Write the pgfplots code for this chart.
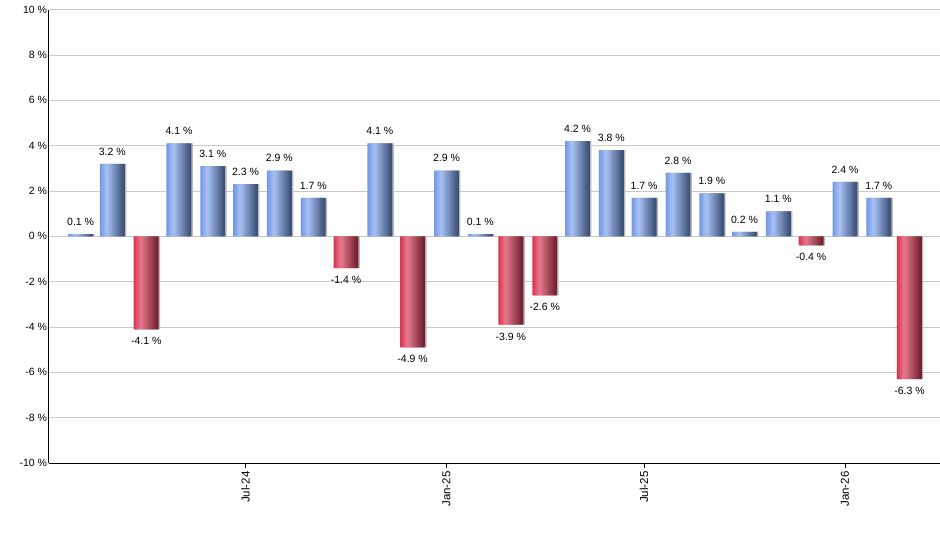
\documentclass[border=0pt]{standalone}
\usepackage{fontspec}
\setmainfont{Liberation Sans}
\usepackage{pgfplots}
\usepackage{pgfplotstable}
\pgfplotsset{compat=1.18}

\definecolor{bL}{HTML}{6E94E6}
\definecolor{bM}{HTML}{A8C2F4}
\definecolor{bR}{HTML}{3A4D75}
\definecolor{rL}{HTML}{DD2C4E}
\definecolor{rM}{HTML}{E77A8E}
\definecolor{rR}{HTML}{6F1E2E}
\definecolor{gridgray}{HTML}{C8C8C8}

% x = days since 1 Feb 2024 (first of each month)
\pgfplotstableread{
x   y
0   0.1
29  3.2
90  4.1
121 3.1
151 2.3
182 2.9
213 1.7
274 4.1
335 2.9
366 0.1
455 4.2
486 3.8
516 1.7
547 2.8
578 1.9
608 0.2
639 1.1
700 2.4
731 1.7
}\posdata

\pgfplotstableread{
x   y
60  -4.1
243 -1.4
304 -4.9
394 -3.9
425 -2.6
669 -0.4
759 -6.3
}\negdata

% bars are drawn as vertical strips to get the horizontal gradient
\newcommand\nstrip{20}
\newcommand\barw{22.2}

\begin{document}
\begin{tikzpicture}
\useasboundingbox (-49pt,-87pt) rectangle (891pt,463pt);
\begin{axis}[
  at={(0,0)}, anchor=south west,
  scale only axis,
  width=891pt, height=453.3pt,
  ybar, bar width=22.6, bar shift=0pt,
  xmin=-29, xmax=787,
  ymin=-10, ymax=10,
  axis x line*=bottom, axis y line*=left,
  axis line style={-, black, line width=1pt},
  ytick={-10,-8,...,10},
  yticklabels={-10 \%,-8 \%,-6 \%,-4 \%,-2 \%,0 \%,2 \%,4 \%,6 \%,8 \%,10 \%},
  ytick style={draw=none},
  y tick label style={font=\fontsize{10.5}{12}\selectfont, xshift=6.5pt},
  ymajorgrids, grid style={gridgray, line width=0.8pt},
  xtick={151,335,516,700},
  xticklabels={Jul-24,Jan-25,Jul-25,Jan-26},
  tick align=outside, major tick length=5pt,
  xtick style={black, line width=1pt},
  x tick label style={rotate=90, anchor=east, font=\fontsize{11.5}{13}\selectfont},
  tick label style={black},
  point meta=explicit symbolic,
]
% shadows
\addplot[draw=none, fill=gray!55, bar shift=1.6pt] table[x=x,y=y] {\posdata};
\addplot[draw=none, fill=gray!55, bar shift=1.6pt] table[x=x,y=y] {\negdata};
% gradient strips
\pgfplotsinvokeforeach{0,...,19}{
  \pgfmathsetmacro\t{(#1+0.5)/\nstrip}
  \pgfmathsetmacro\sh{(#1+0.5)*\barw/\nstrip-\barw/2}
  \pgfmathsetmacro\sw{\barw/\nstrip+0.6}
  \ifdim\t pt<0.3pt
    \pgfmathtruncatemacro\pc{\t/0.3*100}
    \edef\cb{bM!\pc!bL}\edef\cr{rM!\pc!rL}
  \else
    \pgfmathtruncatemacro\pc{(\t-0.3)/0.7*100}
    \edef\cb{bR!\pc!bM}\edef\cr{rR!\pc!rM}
  \fi
  \edef\doplot{%
    \noexpand\addplot[draw=none, fill=\cb, bar shift=\sh, bar width=\sw]
      table[x=x,y=y] {\noexpand\posdata};
    \noexpand\addplot[draw=none, fill=\cr, bar shift=\sh, bar width=\sw]
      table[x=x,y=y] {\noexpand\negdata};
  }
  \doplot
}
% value labels
\addplot[draw=none, fill=none,
  nodes near coords={\pgfplotspointmeta~\%},
  every node near coord/.append style={font=\fontsize{10.5}{12}\selectfont, black, anchor=south, inner xsep=0pt, inner ysep=8.5pt}]
  table[x=x,y=y,meta=y] {\posdata};
\addplot[draw=none, fill=none,
  nodes near coords={\pgfplotspointmeta~\%},
  every node near coord/.append style={font=\fontsize{10.5}{12}\selectfont, black, anchor=north, inner xsep=0pt, inner ysep=8pt}]
  table[x=x,y=y,meta=y] {\negdata};
\end{axis}
\end{tikzpicture}
\end{document}
